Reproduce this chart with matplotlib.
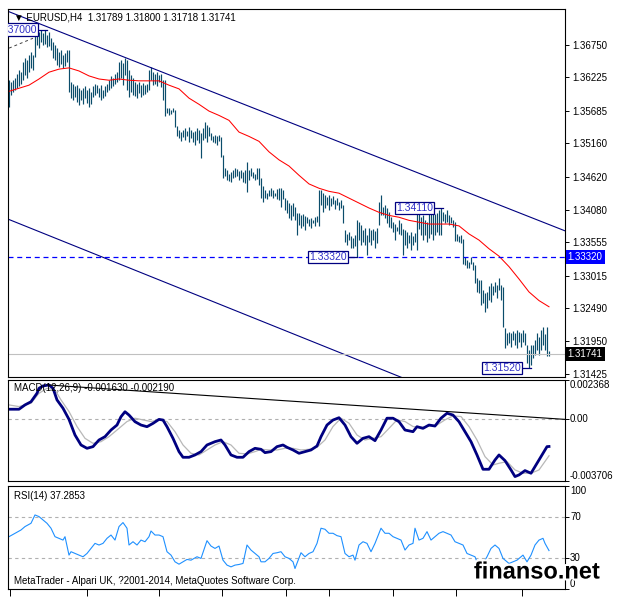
import numpy as np
import matplotlib
matplotlib.use('Agg')
import matplotlib.pyplot as plt
import matplotlib.patheffects as pe

plt.rcParams['font.family'] = ['Liberation Sans', 'DejaVu Sans']

# ---- price bars (EURUSD H4), one entry per bar ----
highs = [
    1.3618, 1.3615, 1.3618, 1.3621, 1.3628, 1.3635, 1.3631,
    1.3648, 1.3654, 1.3651, 1.3659, 1.3664, 1.3659,
    1.3700, 1.3699, 1.3696, 1.3699, 1.3694, 1.3699, 1.3691, 1.3696, 1.3686,
    1.3680, 1.3675, 1.3670, 1.3664, 1.3667, 1.3659, 1.3662, 1.3667, 1.3667,
    1.3615, 1.3612, 1.3608, 1.3610, 1.3605, 1.3602, 1.3605, 1.3608, 1.3602, 1.3605, 1.3599,
    1.3608, 1.3612, 1.3610, 1.3605, 1.3610, 1.3602, 1.3608, 1.3612,
    1.3618, 1.3625, 1.3621, 1.3628, 1.3631,
    1.3647, 1.3651, 1.3646, 1.3654, 1.3651, 1.3635, 1.3626, 1.3621,
    1.3615, 1.3612, 1.3615, 1.3610, 1.3613, 1.3610, 1.3612, 1.3635, 1.3639,
    1.3631, 1.3628, 1.3631, 1.3626, 1.3628, 1.3618, 1.3618,
    1.3573, 1.3573, 1.3570, 1.3573, 1.3570,
    1.3544, 1.3537, 1.3534, 1.3537, 1.3541, 1.3536, 1.3542, 1.3537,
    1.3534, 1.3536, 1.3541, 1.3537, 1.3532,
    1.3541, 1.3550, 1.3545, 1.3542, 1.3532, 1.3527, 1.3530, 1.3527, 1.3530, 1.3526,
    1.3497, 1.3476, 1.3473, 1.3466, 1.3470, 1.3473, 1.3476, 1.3474, 1.3471, 1.3473, 1.3470, 1.3473, 1.3486,
    1.3473, 1.3476, 1.3470, 1.3466, 1.3476, 1.3476, 1.3459, 1.3446,
    1.3440, 1.3436, 1.3440, 1.3443, 1.3440, 1.3436, 1.3441, 1.3444, 1.3443, 1.3440,
    1.3427, 1.3424, 1.3419, 1.3416, 1.3419, 1.3413, 1.3403,
    1.3403, 1.3400, 1.3401, 1.3398, 1.3397, 1.3393, 1.3395, 1.3392, 1.3397, 1.3398, 1.3440,
    1.3440, 1.3435, 1.3432, 1.3429, 1.3432, 1.3427, 1.3430, 1.3424, 1.3427, 1.3421, 1.3424, 1.3416,
    1.3375, 1.3369, 1.3372, 1.3366, 1.3363, 1.3367, 1.3392,
    1.3389, 1.3384, 1.3375, 1.3379, 1.3367,
    1.3379, 1.3375, 1.3377, 1.3374, 1.3379, 1.3421, 1.3432,
    1.3413, 1.3416, 1.3411, 1.3405, 1.3397, 1.3389, 1.3385, 1.3380, 1.3392, 1.3386, 1.3377,
    1.3375, 1.3372, 1.3367, 1.3372, 1.3366, 1.3370, 1.3421,
    1.3405, 1.3396, 1.3400, 1.3392, 1.3389, 1.3418, 1.3407, 1.3410, 1.3402, 1.3403,
    1.3407, 1.3411, 1.3405, 1.3402, 1.3407, 1.3400, 1.3397, 1.3392, 1.3389, 1.3369,
    1.3366, 1.3367, 1.3361, 1.3332, 1.3327, 1.3324, 1.3332, 1.3324, 1.3319, 1.3298,
    1.3294, 1.3294, 1.3278, 1.3273, 1.3275, 1.3284, 1.3290, 1.3284, 1.3291, 1.3286,
    1.3298, 1.3286, 1.3283, 1.3216, 1.3208, 1.3210, 1.3208, 1.3211, 1.3208, 1.3213,
    1.3210, 1.3208, 1.3213, 1.3208, 1.3189, 1.3181, 1.3189, 1.3189, 1.3197, 1.3208,
    1.3202, 1.3213, 1.3218, 1.3207, 1.3218, 1.3180,
]
lows = [
    1.3575, 1.3594, 1.3599, 1.3602, 1.3605, 1.3608, 1.3612,
    1.3618, 1.3626, 1.3621, 1.3631, 1.3638, 1.3635,
    1.3656, 1.3675, 1.3670, 1.3680, 1.3675, 1.3677, 1.3672, 1.3673, 1.3667,
    1.3654, 1.3651, 1.3643, 1.3640, 1.3645, 1.3638, 1.3641, 1.3648, 1.3599,
    1.3589, 1.3586, 1.3591, 1.3583, 1.3578, 1.3586, 1.3579, 1.3589, 1.3581, 1.3575, 1.3579,
    1.3591, 1.3594, 1.3597, 1.3591, 1.3586, 1.3589, 1.3592, 1.3599,
    1.3602, 1.3605, 1.3608, 1.3612, 1.3615,
    1.3618, 1.3621, 1.3610, 1.3626, 1.3602, 1.3591, 1.3599, 1.3594,
    1.3592, 1.3589, 1.3597, 1.3591, 1.3594, 1.3596, 1.3599, 1.3602, 1.3618,
    1.3610, 1.3612, 1.3608, 1.3615, 1.3607, 1.3586, 1.3560,
    1.3565, 1.3562, 1.3563, 1.3567, 1.3542,
    1.3527, 1.3524, 1.3519, 1.3526, 1.3521, 1.3527, 1.3518, 1.3524,
    1.3518, 1.3513, 1.3521, 1.3516, 1.3492,
    1.3521, 1.3524, 1.3518, 1.3527, 1.3521, 1.3518, 1.3516, 1.3513, 1.3519, 1.3494,
    1.3460, 1.3463, 1.3456, 1.3455, 1.3453, 1.3460, 1.3462, 1.3463, 1.3456, 1.3460, 1.3453, 1.3452, 1.3437,
    1.3456, 1.3463, 1.3460, 1.3456, 1.3458, 1.3448, 1.3428, 1.3420,
    1.3428, 1.3426, 1.3430, 1.3431, 1.3428, 1.3430, 1.3426, 1.3424, 1.3413, 1.3426,
    1.3408, 1.3403, 1.3395, 1.3392, 1.3398, 1.3392, 1.3368,
    1.3384, 1.3379, 1.3382, 1.3375, 1.3386, 1.3382, 1.3379, 1.3386, 1.3382, 1.3389, 1.3382,
    1.3416, 1.3405, 1.3411, 1.3416, 1.3408, 1.3414, 1.3417, 1.3410, 1.3416, 1.3408, 1.3411, 1.3387,
    1.3356, 1.3351, 1.3359, 1.3347, 1.3346, 1.3350, 1.3332,
    1.3359, 1.3351, 1.3356, 1.3351, 1.3335,
    1.3356, 1.3351, 1.3359, 1.3346, 1.3354, 1.3384, 1.3400,
    1.3400, 1.3395, 1.3386, 1.3381, 1.3379, 1.3372, 1.3359, 1.3374, 1.3369, 1.3367, 1.3335,
    1.3351, 1.3346, 1.3354, 1.3343, 1.3351, 1.3356, 1.3343,
    1.3377, 1.3367, 1.3359, 1.3367, 1.3356, 1.3363, 1.3369, 1.3359, 1.3367, 1.3372,
    1.3367, 1.3367, 1.3390, 1.3386, 1.3388, 1.3384, 1.3387, 1.3381, 1.3357, 1.3358,
    1.3356, 1.3354, 1.3320, 1.3319, 1.3314, 1.3314, 1.3320, 1.3311, 1.3290, 1.3275,
    1.3274, 1.3254, 1.3257, 1.3243, 1.3249, 1.3262, 1.3259, 1.3270, 1.3275, 1.3265,
    1.3278, 1.3262, 1.3218, 1.3184, 1.3189, 1.3192, 1.3186, 1.3197, 1.3189, 1.3184,
    1.3194, 1.3186, 1.3194, 1.3189, 1.3160, 1.3152, 1.3157, 1.3168, 1.3173, 1.3181,
    1.3173, 1.3181, 1.3189, 1.3181, 1.3171, 1.3172,
]

# moving average (red), bar index -> value
ma_idx = [0, 5, 10, 15, 20, 25, 30, 35, 40, 45, 50, 55, 60, 65, 70, 75, 80, 85, 90, 95,
          100, 105, 110, 115, 120, 125, 130, 135, 140, 145, 150, 155, 160, 165, 170, 175,
          180, 185, 190, 195, 200, 205, 210, 215, 220, 225, 230, 235, 240, 245, 250, 255,
          260, 265, 270]
ma_val = [1.3600, 1.3605, 1.3610, 1.3620, 1.3631, 1.3636, 1.3638, 1.3633, 1.3625, 1.3620,
          1.3618, 1.3620, 1.3618, 1.3617, 1.3617, 1.3617, 1.3610, 1.3604, 1.3589, 1.3579,
          1.3568, 1.3561, 1.3553, 1.3534, 1.3527, 1.3519, 1.3502, 1.3489, 1.3479, 1.3464,
          1.3450, 1.3443, 1.3438, 1.3435, 1.3427, 1.3419, 1.3411, 1.3404, 1.3399, 1.3396,
          1.3391, 1.3388, 1.3385, 1.3385, 1.3385, 1.3382, 1.3369, 1.3359, 1.3345, 1.3333,
          1.3316, 1.3296, 1.3275, 1.3261, 1.3251]

# channel lines and short trend line (start / end)
upper_ch_x, upper_ch_y = [0, 278], [1.3729, 1.3374]
lower_ch_x, lower_ch_y = [-0.5, 278], [1.3393, 1.3030]
dash_tl_x, dash_tl_y = [0, 12], [1.3670, 1.3686]

level_price = 1.33320
last_price = 1.31741
price_ticks = [1.36750, 1.36225, 1.35685, 1.35160, 1.34620, 1.34080,
               1.33555, 1.33015, 1.32490, 1.31950, 1.31425]
# price labels: value, right edge of box (bar index), end of pointer
price_marks = [(1.37000, 14, 19), (1.34110, 212, 217), (1.33320, 169, 174), (1.31520, 256, 261)]

# MACD main / signal
macd_idx = [0, 5, 8, 11, 14, 15, 17, 20, 22, 24, 27, 30, 33, 36, 39, 42, 45, 48, 51, 54,
            56, 58, 60, 63, 66, 69, 72, 75, 77, 79, 82, 85, 87, 90, 93, 96, 99, 103, 106, 108,
            111, 114, 117, 120, 123, 126, 128, 131, 134, 137, 139, 142, 145, 148, 151, 154,
            156, 159, 162, 165, 168, 171, 174, 177, 180, 183, 186, 189, 192, 195, 198, 202,
            204, 207, 210, 213, 216, 219, 222, 225, 228, 231, 234, 237, 240, 243, 245, 248,
            251, 253, 255, 258, 261, 264, 267, 269, 270]
macd_val = [0.00061, 0.00061, 0.00087, 0.00106, 0.00157, 0.00187, 0.00201, 0.00207, 0.00187,
            0.00117, 0.00067, 0.00000, -0.00094, -0.00154, -0.00174, -0.00164, -0.00124,
            -0.00104, -0.00064, -0.00034, 0.00016, 0.00046, 0.00026, -0.00014, -0.00034,
            -0.00044, -0.00024, 0.00000, -0.00004, -0.00044, -0.00114, -0.00194, -0.00228,
            -0.00228, -0.00214, -0.00194, -0.00154, -0.00134, -0.00124, -0.00154, -0.00214,
            -0.00228, -0.00228, -0.00194, -0.00174, -0.00180, -0.00200, -0.00194, -0.00164,
            -0.00154, -0.00168, -0.00184, -0.00204, -0.00194, -0.00184, -0.00160, -0.00104,
            -0.00034, -0.00004, 0.00010, -0.00034, -0.00104, -0.00144, -0.00114, -0.00104,
            -0.00128, -0.00064, 0.00007, 0.00007, -0.00014, -0.00064, -0.00074, -0.00044,
            -0.00054, -0.00034, -0.00040, 0.00007, 0.00037, 0.00026, -0.00014, -0.00074,
            -0.00134, -0.00214, -0.00300, -0.00300, -0.00244, -0.00214, -0.00248, -0.00304,
            -0.00344, -0.00334, -0.00308, -0.00324, -0.00264, -0.00204, -0.00164, -0.00163]
sig_idx = [0, 5, 11, 15, 19, 23, 26, 30, 34, 38, 42, 46, 50, 54, 59, 63, 67, 71, 75, 79,
           83, 87, 91, 95, 99, 103, 107, 111, 115, 119, 123, 126, 130, 134, 138, 142, 146,
           150, 154, 158, 162, 166, 170, 174, 178, 182, 186, 190, 194, 198, 202, 206, 210,
           214, 218, 222, 226, 230, 234, 238, 242, 245, 249, 253, 257, 261, 265, 270]
sig_val = [0.00087, 0.00077, 0.00097, 0.00157, 0.00187, 0.00177, 0.00117, 0.00047, -0.00043,
           -0.00114, -0.00144, -0.00134, -0.00104, -0.00064, -0.00013, 0.00007, -0.00003,
           -0.00013, -0.00003, -0.00013, -0.00074, -0.00154, -0.00204, -0.00214, -0.00184,
           -0.00154, -0.00134, -0.00154, -0.00204, -0.00208, -0.00194, -0.00180, -0.00184,
           -0.00184, -0.00174, -0.00174, -0.00184, -0.00180, -0.00168, -0.00124, -0.00043,
           0.00007, -0.00023, -0.00094, -0.00124, -0.00114, -0.00104, -0.00054, -0.00003,
           -0.00013, -0.00043, -0.00048, -0.00040, -0.00034, -0.00003, 0.00021, 0.00017,
           -0.00043, -0.00124, -0.00224, -0.00274, -0.00264, -0.00254, -0.00304, -0.00324,
           -0.00324, -0.00304, -0.00219]
macd_trend_x, macd_trend_y = [19.5, 278], [0.00207, 0.00000]

# RSI(14)
rsi_idx = [0, 3, 6, 8, 11, 13, 15, 17, 19, 21, 23, 25, 27, 28, 30, 31, 33, 35, 37, 39,
           41, 43, 45, 47, 49, 51, 53, 55, 57, 59, 60, 62, 64, 66, 68, 70, 71, 73, 75, 77,
           79, 81, 83, 85, 87, 89, 91, 94, 96, 99, 101, 103, 105, 107, 109, 111, 113, 115,
           117, 119, 121, 123, 125, 126, 128, 130, 132, 134, 136, 138, 140, 142, 143, 146,
           148, 150, 152, 154, 156, 158, 160, 162, 164, 166, 168, 170, 172, 173, 175, 177,
           179, 181, 183, 185, 186, 188, 190, 192, 194, 196, 198, 200, 202, 203, 205, 207,
           209, 211, 213, 215, 217, 219, 221, 223, 225, 227, 229, 231, 233, 235, 237, 239,
           241, 243, 245, 247, 249, 250, 252, 254, 256, 257, 259, 261, 263, 265, 267, 268, 270]
rsi_val = [50.8, 54.1, 57.3, 60.6, 63.8, 71.9, 70.3, 67.1, 63.8, 59.0, 50.8, 49.2, 47.5, 50.8,
           32.9, 36.2, 34.5, 32.9, 31.3, 34.5, 39.4, 44.3, 42.7, 44.3, 49.2, 52.4, 47.5, 60.6,
           64.5, 59.0, 42.7, 45.9, 42.7, 47.5, 45.9, 50.8, 56.3, 52.4, 52.4, 50.8, 36.2, 32.9,
           26.4, 24.1, 26.4, 28.7, 28.0, 31.3, 29.7, 46.9, 41.7, 39.4, 41.7, 28.0, 23.2, 21.5,
           23.2, 23.8, 24.8, 42.7, 37.8, 34.5, 31.3, 26.4, 26.4, 29.7, 34.5, 35.2, 36.2, 31.3,
           29.7, 26.4, 19.9, 35.2, 31.3, 34.5, 36.2, 44.3, 59.0, 58.0, 54.1, 54.1, 51.8, 50.8,
           34.5, 31.3, 32.9, 28.0, 42.7, 45.9, 44.3, 36.2, 44.3, 54.1, 59.0, 54.1, 54.1, 50.8,
           49.2, 47.5, 37.8, 42.7, 44.3, 59.0, 47.5, 49.2, 55.7, 47.5, 50.8, 54.1, 55.7, 54.1,
           52.4, 45.9, 44.3, 42.7, 34.5, 32.9, 31.3, 21.5, 24.8, 31.3, 39.4, 42.7, 39.4, 29.7,
           26.4, 24.8, 26.4, 28.0, 31.3, 32.9, 26.4, 32.9, 42.7, 47.5, 49.2, 44.3, 37.3]

date_ticks = [0.5, 38.75, 75, 106.5, 138.5, 160, 192, 223.5, 256.5]

BAR = '#0b4d6b'
NAVY = '#000080'
W, H = 623, 598


def panel(top, bottom):
    return fig.add_axes([8 / W, 1 - bottom / H, 557 / W, (bottom - top) / H])


fig = plt.figure(figsize=(W / 100, H / 100), dpi=100)
ax = panel(9, 377)
ax_m = panel(380, 481)
ax_r = panel(486, 589)

for a in (ax, ax_m, ax_r):
    a.set_xlim(-0.5, 278)
    for s in a.spines.values():
        s.set_linewidth(0.8)
        s.set_color('black')
    a.yaxis.tick_right()
    a.tick_params(axis='y', length=3, width=0.7, pad=2, labelsize=7)
    a.tick_params(axis='x', bottom=False, labelbottom=False)

# ---- main price chart ----
idx = np.arange(len(highs))
ax.vlines(idx, lows, highs, colors=BAR, lw=0.85)
ax.plot(ma_idx, ma_val, color='red', lw=0.75)
ax.plot(upper_ch_x, upper_ch_y, color=NAVY, lw=0.8)
ax.plot(lower_ch_x, lower_ch_y, color=NAVY, lw=0.8)
ax.plot(dash_tl_x, dash_tl_y, color='#404040', lw=0.7, ls=(0, (3, 3)))
ax.axhline(level_price, color='#0000ff', lw=0.9, ls=(0, (4, 3)))
ax.axhline(last_price, color='#c0c0c0', lw=0.8)
ax.set_ylim(1.31372, 1.37334)
ax.set_yticks(price_ticks)
ax.set_yticklabels([f'{v:.5f}' for v in price_ticks])

for val, xr, xe in price_marks:
    ax.plot([xr, xe], [val, val], color=NAVY, lw=0.9)
    ax.text(xr, val, f'{val:.5f}', ha='right', va='center', fontsize=7.5,
            color='#3030c8', clip_on=True,
            bbox=dict(boxstyle='square,pad=0.12', fc='white', ec=NAVY, lw=0.9))

ytr = ax.get_yaxis_transform()
ax.text(1.005, level_price, f'{level_price:.5f}', transform=ytr, ha='left', va='center',
        fontsize=7, color='white', clip_on=False,
        bbox=dict(boxstyle='square,pad=0.2', fc='#0000ff', ec='none'))
ax.text(1.005, last_price, f'{last_price:.5f}', transform=ytr, ha='left', va='center',
        fontsize=7, color='white', clip_on=False,
        bbox=dict(boxstyle='square,pad=0.2', fc='black', ec='none'))
ax.text(0.01, 0.978, '\u25bc EURUSD,H4  1.31789 1.31800 1.31718 1.31741',
        transform=ax.transAxes, fontsize=7, va='center', ha='left')

# ---- MACD ----
ax_m.set_ylim(-0.003706, 0.002368)
ax_m.axhline(0, color='#b0b0b0', lw=0.8, ls=(0, (3, 3)))
ax_m.plot(sig_idx, sig_val, color='#b8b8b8', lw=0.9)
ax_m.plot(macd_idx, macd_val, color=NAVY, lw=2.0)
ax_m.plot(macd_trend_x, macd_trend_y, color='black', lw=0.8)
ax_m.set_yticks([0.002368, 0.0, -0.003706])
ax_m.set_yticklabels([])
mtr = ax_m.get_yaxis_transform()
for y, lab, va in [(0.002368, '0.002368', 'top'), (0.0, '0.00', 'center'),
                   (-0.003706, '-0.003706', 'bottom')]:
    ax_m.text(1.009, y, lab, transform=mtr, fontsize=7, ha='left', va=va, clip_on=False)
ax_m.text(0.01, 0.92, 'MACD(12,26,9) -0.001630 -0.002190', transform=ax_m.transAxes,
          fontsize=7, va='center', ha='left')

# ---- RSI ----
ax_r.set_ylim(0, 100)
ax_r.axhline(70, color='#b0b0b0', lw=0.8, ls=(0, (3, 3)))
ax_r.axhline(30, color='#b0b0b0', lw=0.8, ls=(0, (3, 3)))
ax_r.plot(rsi_idx, rsi_val, color='#1e90ff', lw=0.8)
ax_r.set_yticks([100, 70, 30, 0])
ax_r.set_yticklabels([])
rtr = ax_r.get_yaxis_transform()
for y, lab, va in [(100, '100', 'top'), (70, '70', 'center'), (30, '30', 'center'),
                   (0, '0', 'bottom')]:
    ax_r.text(1.009, y, lab, transform=rtr, fontsize=7, ha='left', va=va, clip_on=False)
ax_r.text(0.01, 0.9, 'RSI(14) 37.2853', transform=ax_r.transAxes, fontsize=7,
          va='center', ha='left')
ax_r.text(0.01, 0.08, 'MetaTrader - Alpari UK, ?2001-2014, MetaQuotes Software Corp.',
          transform=ax_r.transAxes, fontsize=7, va='center', ha='left')
ax_r.set_xticks(date_ticks)
ax_r.tick_params(axis='x', bottom=True, length=5, width=0.7, direction='out',
                 labelbottom=False)

fig.text(537 / W, 1 - 572 / H, 'finanso.net', fontsize=17, fontweight='bold',
         ha='center', va='center', color='black',
         path_effects=[pe.withStroke(linewidth=3, foreground='white')])

fig.savefig('out.png', dpi=100)
